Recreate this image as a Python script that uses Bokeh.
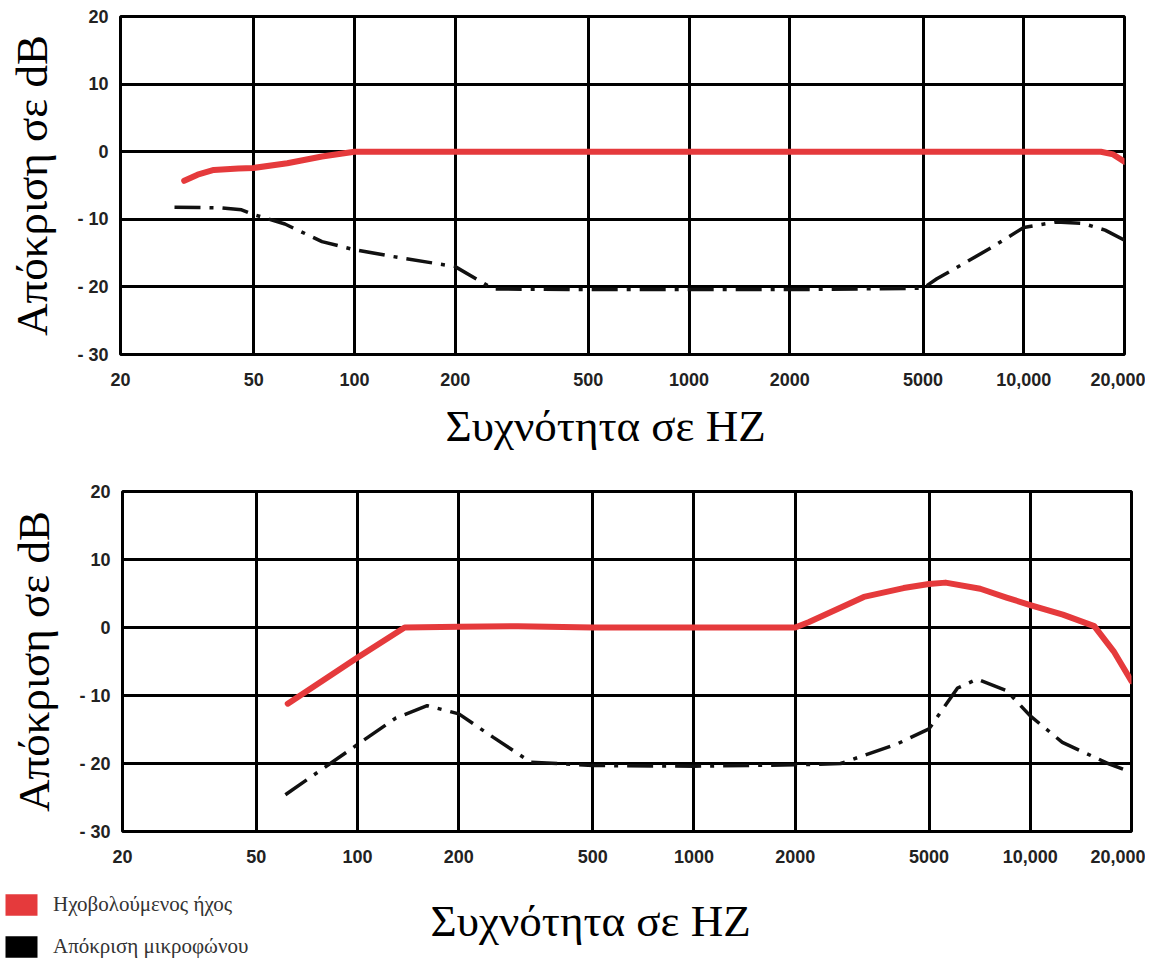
from bokeh.plotting import figure
from bokeh.models import FixedTicker, Label, Legend, LegendItem, Range1d, Title
from bokeh.layouts import column
from bokeh.embed import file_html
from bokeh.resources import INLINE

# ---------------- data ----------------
x_ticks = [20, 50, 100, 200, 500, 1000, 2000, 5000, 10000, 20000]
x_tick_labels = ["20", "50", "100", "200", "500", "1000", "2000", "5000", "10,000", "20,000"]
y_ticks = [-30, -20, -10, 0, 10, 20]
y_tick_labels = ["- 30", "- 20", "- 10", "0", "10", "20"]

x_title = "Συχνότητα σε HZ"
y_title = "Απόκριση σε dB"
legend_labels = ["Ηχοβολούμενος ήχος", "Απόκριση μικροφώνου"]

top_red_freq = [31, 34, 38, 45, 50, 63, 80, 100, 200, 500, 1000, 2000, 5000, 10000, 17000, 18500, 20000]
top_red_db = [-4.3, -3.4, -2.7, -2.5, -2.4, -1.7, -0.7, 0.0, 0.0, 0.0, 0.0, 0.0, 0.0, 0.0, 0.0, -0.4, -1.5]

top_mic_freq = [29, 40, 46, 50, 62, 80, 100, 130, 200, 260, 500, 1000, 2000, 5000, 5500, 8000, 10000, 12500, 15000, 17500, 20000]
top_mic_db = [-8.2, -8.3, -8.6, -9.3, -10.7, -13.3, -14.5, -15.5, -17.0, -20.3, -20.4, -20.4, -20.4, -20.2, -18.8, -14.2, -11.2, -10.4, -10.6, -11.6, -13.1]

bot_red_freq = [62, 100, 138, 200, 300, 500, 1000, 2000, 2200, 3200, 4200, 5000, 5600, 7100, 8500, 10000, 12500, 15500, 17700, 20000]
bot_red_db = [-11.2, -4.4, 0.0, 0.1, 0.2, 0.0, 0.0, 0.0, 0.8, 4.5, 5.8, 6.4, 6.6, 5.7, 4.4, 3.3, 1.9, 0.2, -3.5, -7.9]

bot_mic_freq = [61, 100, 130, 161, 200, 254, 327, 500, 1000, 2000, 2730, 4030, 5000, 6080, 6950, 8510, 10000, 12460, 17040, 20000]
bot_mic_db = [-24.6, -17.2, -13.3, -11.5, -12.7, -16.2, -19.8, -20.3, -20.4, -20.2, -20.0, -17.1, -14.9, -8.9, -7.6, -9.3, -13.0, -16.9, -20.0, -21.3]

RED = "#e53a3c"
BLACK = "#111111"
W = 1145


def make_fig(height, b_top, b_bottom, b_left, b_right):
    p = figure(width=W, height=height, x_axis_type="log",
               x_range=Range1d(20, 20000), y_range=Range1d(-30, 20),
               output_backend="svg", toolbar_location=None,
               min_border_top=b_top, min_border_bottom=b_bottom,
               min_border_left=b_left, min_border_right=b_right)
    p.frame_align = False
    p.background_fill_color = "white"
    p.border_fill_color = "white"
    p.outline_line_color = "black"
    p.outline_line_width = 3

    p.xaxis.ticker = FixedTicker(ticks=x_ticks, minor_ticks=[])
    p.xaxis.major_label_overrides = {t: l for t, l in zip(x_ticks, x_tick_labels)}
    p.yaxis.ticker = FixedTicker(ticks=y_ticks, minor_ticks=[])
    p.yaxis.major_label_overrides = {t: l for t, l in zip(y_ticks, y_tick_labels)}

    for ax in (p.xaxis, p.yaxis):
        ax.axis_line_color = None
        ax.major_tick_line_color = None
        ax.minor_tick_line_color = None
        ax.major_tick_out = 0
        ax.major_tick_in = 0
        ax.major_label_text_font = "Liberation Sans"
        ax.major_label_text_font_size = "18px"
        ax.major_label_text_font_style = "bold"
        ax.major_label_text_color = "#222222"
    p.xaxis.major_label_standoff = 18
    p.yaxis.major_label_standoff = 12

    p.yaxis.axis_label = y_title
    p.yaxis.axis_label_text_font = "Liberation Serif"
    p.yaxis.axis_label_text_font_size = "45px"
    p.yaxis.axis_label_text_font_style = "normal"
    p.yaxis.axis_label_text_color = "black"
    p.yaxis.axis_label_standoff = 17

    for g in (p.xgrid, p.ygrid):
        g.grid_line_color = "black"
        g.grid_line_width = 3
    return p


# ---------------- top panel ----------------
p1 = make_fig(470, 16, 116, 120, W - 1124)
p1.line(top_red_freq, top_red_db, line_color=RED, line_width=6,
        line_cap="round", line_join="round")
p1.line(top_mic_freq, top_mic_db, line_color=BLACK, line_width=3.5,
        line_dash="26 9 4 9")
p1.add_layout(Title(text=x_title, align="left", offset=325, standoff=20,
                    text_font="Liberation Serif", text_font_size="45px",
                    text_font_style="normal", text_color="black"), "below")

# ---------------- bottom panel ----------------
p2 = make_fig(400, 21, 39, 122, W - 1131)
p2.line(bot_red_freq, bot_red_db, line_color=RED, line_width=6,
        line_cap="round", line_join="round")
p2.line(bot_mic_freq, bot_mic_db, line_color=BLACK, line_width=3.5,
        line_dash="26 9 4 9")

# ---------------- footer: x title + legend ----------------
FH = 91
pf = figure(width=W, height=FH, x_range=Range1d(0, W), y_range=Range1d(0, FH),
            output_backend="svg", toolbar_location=None,
            x_axis_location=None, y_axis_location=None,
            min_border_top=0, min_border_bottom=0,
            min_border_left=0, min_border_right=0)
pf.frame_align = False
pf.grid.visible = False
pf.outline_line_color = None
pf.background_fill_color = "white"
pf.border_fill_color = "white"
pf.add_layout(Label(x=430, y=41, x_units="screen", y_units="screen",
                    text=x_title, text_font="Liberation Serif",
                    text_font_size="45px", text_baseline="alphabetic",
                    text_color="black"))

nan = float("nan")
r_red = pf.quad(top=[nan], bottom=[nan], left=[nan], right=[nan],
                fill_color=RED, line_color=None)
r_blk = pf.quad(top=[nan], bottom=[nan], left=[nan], right=[nan],
                fill_color="black", line_color=None)
legend = Legend(items=[LegendItem(label=legend_labels[0], renderers=[r_red]),
                       LegendItem(label=legend_labels[1], renderers=[r_blk])],
                location=(1, 1), orientation="vertical",
                glyph_width=40, glyph_height=27, spacing=15, padding=0, margin=0,
                label_standoff=12, border_line_color=None,
                background_fill_alpha=0,
                label_text_font="Liberation Serif", label_text_font_size="21px",
                label_text_color="#333333")
pf.add_layout(legend)

layout = column(p1, p2, pf, spacing=0)
open("out.html", "w").write(file_html(layout, INLINE))
